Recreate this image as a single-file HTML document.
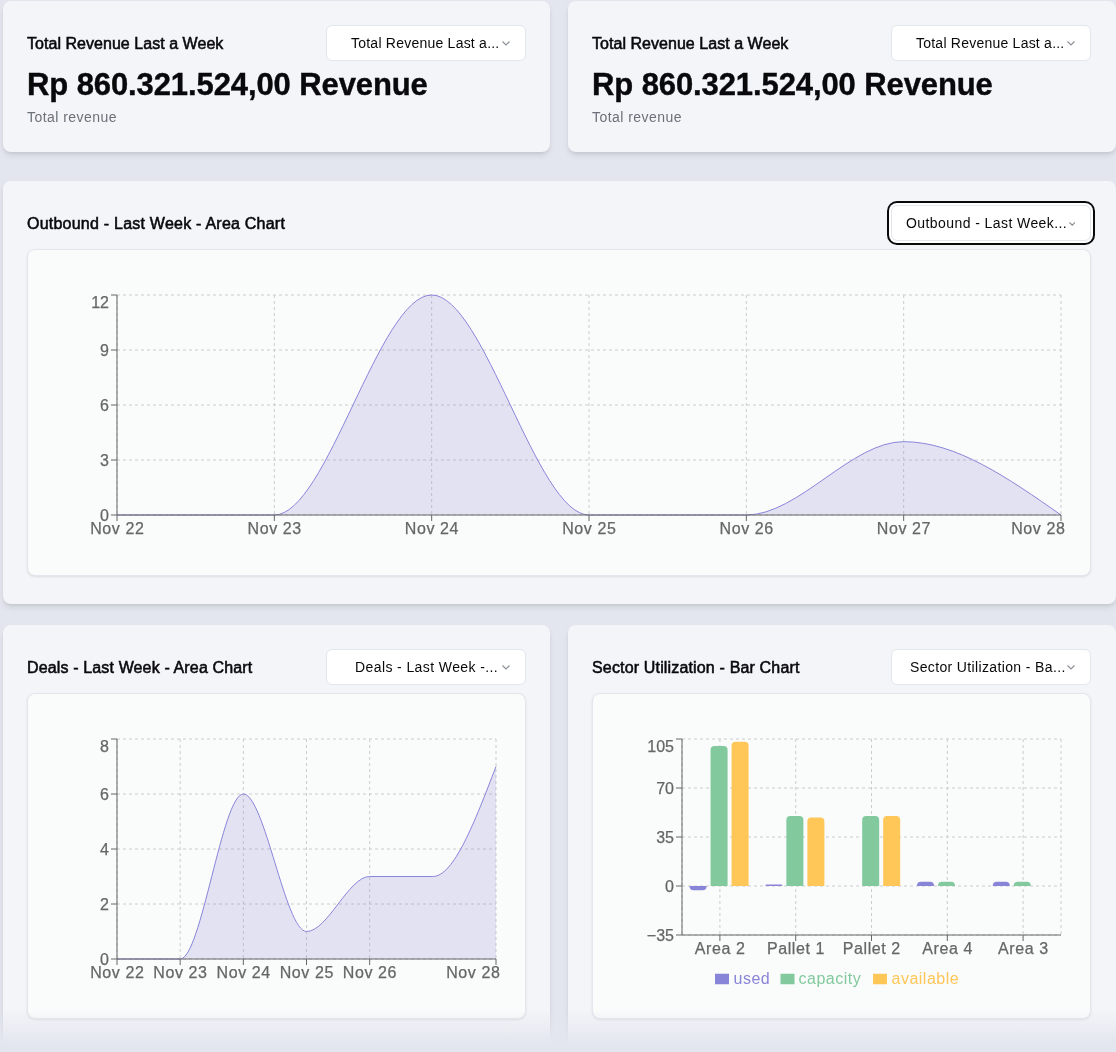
<!DOCTYPE html>
<html><head><meta charset="utf-8">
<style>
*{box-sizing:border-box;margin:0;padding:0}
html,body{width:1116px;height:1052px;overflow:hidden;background:#e3e6ee;font-family:"Liberation Sans", sans-serif;color:#09090b}
.card{position:absolute;background:#f4f5f9;border-radius:8px;box-shadow:0 4px 6px -1px rgba(0,0,0,.1),0 2px 4px -2px rgba(0,0,0,.1)}
.inner{position:absolute;background:#fafbfb;border:1px solid #e3e6ed;border-radius:8px;box-shadow:0 1px 3px 0 rgba(0,0,0,.08),0 1px 2px -1px rgba(0,0,0,.08)}
.title{will-change:transform;position:absolute;font-size:16px;font-weight:400;line-height:20px;white-space:nowrap;color:#09090b;-webkit-text-stroke:0.55px #09090b}
.big{will-change:transform;position:absolute;font-size:31px;font-weight:700;line-height:36px;white-space:nowrap;color:#09090b;letter-spacing:-0.1px;-webkit-text-stroke:0.4px #09090b}
.sub{will-change:transform;position:absolute;font-size:14px;line-height:20px;color:#6b7079;white-space:nowrap;letter-spacing:0.45px}
.sel{position:absolute;background:#fff;border:1px solid #e3e6ed;border-radius:6px;font-size:14px;line-height:20px;white-space:nowrap;color:#09090b}
.sel .st{will-change:transform;position:absolute;top:7px}
.sel.focus{box-shadow:0 0 0 2px #fff,0 0 0 4px #09090b}
svg.chart{position:absolute;left:0;top:0;font-family:"Liberation Sans", sans-serif;font-size:16px;will-change:transform}
svg.chart text.ax{stroke:#666;stroke-width:0.25px}
.fade{position:absolute;left:0;top:1010px;width:1116px;height:42px;background:linear-gradient(to bottom,rgba(227,230,238,0),#e3e6ee 80%)}
</style></head><body>
<div class="card" style="left:2.5px;top:0.5px;width:547.5px;height:151px"></div>
<div class="card" style="left:567.5px;top:0.5px;width:548px;height:151px"></div>
<div class="card" style="left:2.5px;top:180.5px;width:1113px;height:423px"></div>
<div class="card" style="left:2.5px;top:624.5px;width:547.5px;height:600px"></div>
<div class="card" style="left:567.5px;top:624.5px;width:548px;height:600px"></div>

<div class="title" style="left:27px;top:34px;letter-spacing:0.04px">Total Revenue Last a Week</div>
<div class="big" style="left:27px;top:66.5px">Rp 860.321.524,00 Revenue</div>
<div class="sub" style="left:27px;top:107px">Total revenue</div>
<div class="sel" style="left:325.5px;top:25px;width:200.5px;height:35.5px"><span class="st" style="right:26px;letter-spacing:0.23px">Total Revenue Last a...</span><span style="position:absolute;right:15px;top:14.75px;line-height:0"><svg class="chev" width="8" height="5.0" viewBox="0 0 8 5.0" style="width:8px;height:5.0px"><path d="M0.5 0.5L4.0 4.0L7.5 0.5" fill="none" stroke="#8a8e96" stroke-width="1.1"/></svg></span></div>

<div class="title" style="left:592px;top:34px;letter-spacing:0.04px">Total Revenue Last a Week</div>
<div class="big" style="left:592px;top:66.5px">Rp 860.321.524,00 Revenue</div>
<div class="sub" style="left:592px;top:107px">Total revenue</div>
<div class="sel" style="left:890.5px;top:25px;width:200.5px;height:35.5px"><span class="st" style="right:26px;letter-spacing:0.23px">Total Revenue Last a...</span><span style="position:absolute;right:15px;top:14.75px;line-height:0"><svg class="chev" width="8" height="5.0" viewBox="0 0 8 5.0" style="width:8px;height:5.0px"><path d="M0.5 0.5L4.0 4.0L7.5 0.5" fill="none" stroke="#8a8e96" stroke-width="1.1"/></svg></span></div>

<div class="title" style="left:27px;top:214px;letter-spacing:0.23px">Outbound - Last Week - Area Chart</div>
<div class="sel focus" style="left:891px;top:205px;width:200px;height:36px"><span class="st" style="right:22.5px;letter-spacing:0.42px">Outbound - Last Week...</span><span style="position:absolute;right:15px;top:15.375px;line-height:0"><svg class="chev" width="6.5" height="4.25" viewBox="0 0 6.5 4.25" style="width:6.5px;height:4.25px"><path d="M0.5 0.5L3.25 3.25L6.0 0.5" fill="none" stroke="#8a8e96" stroke-width="1.1"/></svg></span></div>
<div class="inner" style="left:27px;top:249px;width:1064px;height:326.5px"></div>

<div class="title" style="left:27px;top:658px;letter-spacing:0.14px">Deals - Last Week - Area Chart</div>
<div class="sel" style="left:325.5px;top:649px;width:200.5px;height:35.5px"><span class="st" style="right:27.3px;letter-spacing:0.4px">Deals - Last Week -...</span><span style="position:absolute;right:15px;top:14.75px;line-height:0"><svg class="chev" width="8" height="5.0" viewBox="0 0 8 5.0" style="width:8px;height:5.0px"><path d="M0.5 0.5L4.0 4.0L7.5 0.5" fill="none" stroke="#8a8e96" stroke-width="1.1"/></svg></span></div>
<div class="inner" style="left:27px;top:692.5px;width:498.5px;height:326px"></div>

<div class="title" style="left:592px;top:658px;letter-spacing:0.16px">Sector Utilization - Bar Chart</div>
<div class="sel" style="left:890.5px;top:649px;width:200.5px;height:35.5px"><span class="st" style="right:24.3px;letter-spacing:0.36px">Sector Utilization - Ba...</span><span style="position:absolute;right:15px;top:14.75px;line-height:0"><svg class="chev" width="8" height="5.0" viewBox="0 0 8 5.0" style="width:8px;height:5.0px"><path d="M0.5 0.5L4.0 4.0L7.5 0.5" fill="none" stroke="#8a8e96" stroke-width="1.1"/></svg></span></div>
<div class="inner" style="left:592px;top:692.5px;width:498.5px;height:326px"></div>

<svg class="chart" width="1116" height="1052" viewBox="0 0 1116 1052">
<line x1="117" y1="515.0" x2="1061" y2="515.0" stroke="#ccc" stroke-dasharray="3 3"/>
<line x1="117" y1="460.0" x2="1061" y2="460.0" stroke="#ccc" stroke-dasharray="3 3"/>
<line x1="117" y1="405.0" x2="1061" y2="405.0" stroke="#ccc" stroke-dasharray="3 3"/>
<line x1="117" y1="350.0" x2="1061" y2="350.0" stroke="#ccc" stroke-dasharray="3 3"/>
<line x1="117" y1="295.0" x2="1061" y2="295.0" stroke="#ccc" stroke-dasharray="3 3"/>
<line x1="117.0" y1="295" x2="117.0" y2="515" stroke="#ccc" stroke-dasharray="3 3"/>
<line x1="274.33333333333337" y1="295" x2="274.33333333333337" y2="515" stroke="#ccc" stroke-dasharray="3 3"/>
<line x1="431.6666666666667" y1="295" x2="431.6666666666667" y2="515" stroke="#ccc" stroke-dasharray="3 3"/>
<line x1="589.0" y1="295" x2="589.0" y2="515" stroke="#ccc" stroke-dasharray="3 3"/>
<line x1="746.3333333333334" y1="295" x2="746.3333333333334" y2="515" stroke="#ccc" stroke-dasharray="3 3"/>
<line x1="903.6666666666666" y1="295" x2="903.6666666666666" y2="515" stroke="#ccc" stroke-dasharray="3 3"/>
<line x1="1061.0" y1="295" x2="1061.0" y2="515" stroke="#ccc" stroke-dasharray="3 3"/>
<path d="M117.000,515.000C169.444,515.000,221.889,515.000,274.333,515.000C326.778,515.000,379.222,295.000,431.667,295.000C484.111,295.000,536.556,515.000,589.000,515.000C641.444,515.000,693.889,515.000,746.333,515.000C798.778,515.000,851.222,441.667,903.667,441.667C956.111,441.667,1008.556,478.333,1061.000,515.000L1061.000,515.000L117.000,515.000Z" fill="#8884d8" fill-opacity="0.2" stroke="none"/>
<path d="M117.000,515.000C169.444,515.000,221.889,515.000,274.333,515.000C326.778,515.000,379.222,295.000,431.667,295.000C484.111,295.000,536.556,515.000,589.000,515.000C641.444,515.000,693.889,515.000,746.333,515.000C798.778,515.000,851.222,441.667,903.667,441.667C956.111,441.667,1008.556,478.333,1061.000,515.000" fill="none" stroke="#8884d8" stroke-width="1"/>
<line x1="117" y1="295" x2="117" y2="515" stroke="#666"/>
<line x1="117" y1="515" x2="1061" y2="515" stroke="#666"/>
<line x1="111" y1="515.0" x2="117" y2="515.0" stroke="#666"/>
<text x="109" y="515.0" dy="0.355em" text-anchor="end" fill="#666" class="ax">0</text>
<line x1="111" y1="460.0" x2="117" y2="460.0" stroke="#666"/>
<text x="109" y="460.0" dy="0.355em" text-anchor="end" fill="#666" class="ax">3</text>
<line x1="111" y1="405.0" x2="117" y2="405.0" stroke="#666"/>
<text x="109" y="405.0" dy="0.355em" text-anchor="end" fill="#666" class="ax">6</text>
<line x1="111" y1="350.0" x2="117" y2="350.0" stroke="#666"/>
<text x="109" y="350.0" dy="0.355em" text-anchor="end" fill="#666" class="ax">9</text>
<line x1="111" y1="295.0" x2="117" y2="295.0" stroke="#666"/>
<text x="109" y="302.0" dy="0.355em" text-anchor="end" fill="#666" class="ax">12</text>
<line x1="117.0" y1="515" x2="117.0" y2="521" stroke="#666"/>
<text x="117.3" y="523" dy="0.71em" text-anchor="middle" letter-spacing="0.6" fill="#666" class="ax">Nov 22</text>
<line x1="274.33333333333337" y1="515" x2="274.33333333333337" y2="521" stroke="#666"/>
<text x="274.6333333333334" y="523" dy="0.71em" text-anchor="middle" letter-spacing="0.6" fill="#666" class="ax">Nov 23</text>
<line x1="431.6666666666667" y1="515" x2="431.6666666666667" y2="521" stroke="#666"/>
<text x="431.9666666666667" y="523" dy="0.71em" text-anchor="middle" letter-spacing="0.6" fill="#666" class="ax">Nov 24</text>
<line x1="589.0" y1="515" x2="589.0" y2="521" stroke="#666"/>
<text x="589.3" y="523" dy="0.71em" text-anchor="middle" letter-spacing="0.6" fill="#666" class="ax">Nov 25</text>
<line x1="746.3333333333334" y1="515" x2="746.3333333333334" y2="521" stroke="#666"/>
<text x="746.6333333333333" y="523" dy="0.71em" text-anchor="middle" letter-spacing="0.6" fill="#666" class="ax">Nov 26</text>
<line x1="903.6666666666666" y1="515" x2="903.6666666666666" y2="521" stroke="#666"/>
<text x="903.9666666666666" y="523" dy="0.71em" text-anchor="middle" letter-spacing="0.6" fill="#666" class="ax">Nov 27</text>
<line x1="1061.0" y1="515" x2="1061.0" y2="521" stroke="#666"/>
<text x="1065.5" y="523" dy="0.71em" text-anchor="end" letter-spacing="0.6" fill="#666" class="ax">Nov 28</text>
<line x1="117" y1="959.0" x2="496" y2="959.0" stroke="#ccc" stroke-dasharray="3 3"/>
<line x1="117" y1="904.0" x2="496" y2="904.0" stroke="#ccc" stroke-dasharray="3 3"/>
<line x1="117" y1="849.0" x2="496" y2="849.0" stroke="#ccc" stroke-dasharray="3 3"/>
<line x1="117" y1="794.0" x2="496" y2="794.0" stroke="#ccc" stroke-dasharray="3 3"/>
<line x1="117" y1="739.0" x2="496" y2="739.0" stroke="#ccc" stroke-dasharray="3 3"/>
<line x1="117.0" y1="739" x2="117.0" y2="959" stroke="#ccc" stroke-dasharray="3 3"/>
<line x1="180.16666666666666" y1="739" x2="180.16666666666666" y2="959" stroke="#ccc" stroke-dasharray="3 3"/>
<line x1="243.33333333333331" y1="739" x2="243.33333333333331" y2="959" stroke="#ccc" stroke-dasharray="3 3"/>
<line x1="306.5" y1="739" x2="306.5" y2="959" stroke="#ccc" stroke-dasharray="3 3"/>
<line x1="369.66666666666663" y1="739" x2="369.66666666666663" y2="959" stroke="#ccc" stroke-dasharray="3 3"/>
<line x1="496.0" y1="739" x2="496.0" y2="959" stroke="#ccc" stroke-dasharray="3 3"/>
<path d="M117.000,959.000C138.056,959.000,159.111,959.000,180.167,959.000C201.222,959.000,222.278,794.000,243.333,794.000C264.389,794.000,285.444,931.500,306.500,931.500C327.556,931.500,348.611,876.500,369.667,876.500C390.722,876.500,411.778,876.500,432.833,876.500C453.889,876.500,474.944,821.500,496.000,766.500L496.000,959.000L117.000,959.000Z" fill="#8884d8" fill-opacity="0.2" stroke="none"/>
<path d="M117.000,959.000C138.056,959.000,159.111,959.000,180.167,959.000C201.222,959.000,222.278,794.000,243.333,794.000C264.389,794.000,285.444,931.500,306.500,931.500C327.556,931.500,348.611,876.500,369.667,876.500C390.722,876.500,411.778,876.500,432.833,876.500C453.889,876.500,474.944,821.500,496.000,766.500" fill="none" stroke="#8884d8" stroke-width="1"/>
<line x1="117" y1="739" x2="117" y2="959" stroke="#666"/>
<line x1="117" y1="959" x2="496" y2="959" stroke="#666"/>
<line x1="111" y1="959.0" x2="117" y2="959.0" stroke="#666"/>
<text x="109" y="959.0" dy="0.355em" text-anchor="end" fill="#666" class="ax">0</text>
<line x1="111" y1="904.0" x2="117" y2="904.0" stroke="#666"/>
<text x="109" y="904.0" dy="0.355em" text-anchor="end" fill="#666" class="ax">2</text>
<line x1="111" y1="849.0" x2="117" y2="849.0" stroke="#666"/>
<text x="109" y="849.0" dy="0.355em" text-anchor="end" fill="#666" class="ax">4</text>
<line x1="111" y1="794.0" x2="117" y2="794.0" stroke="#666"/>
<text x="109" y="794.0" dy="0.355em" text-anchor="end" fill="#666" class="ax">6</text>
<line x1="111" y1="739.0" x2="117" y2="739.0" stroke="#666"/>
<text x="109" y="746.0" dy="0.355em" text-anchor="end" fill="#666" class="ax">8</text>
<line x1="117.0" y1="959" x2="117.0" y2="965" stroke="#666"/>
<text x="117.3" y="967" dy="0.71em" text-anchor="middle" letter-spacing="0.6" fill="#666" class="ax">Nov 22</text>
<line x1="180.16666666666666" y1="959" x2="180.16666666666666" y2="965" stroke="#666"/>
<text x="180.46666666666667" y="967" dy="0.71em" text-anchor="middle" letter-spacing="0.6" fill="#666" class="ax">Nov 23</text>
<line x1="243.33333333333331" y1="959" x2="243.33333333333331" y2="965" stroke="#666"/>
<text x="243.63333333333333" y="967" dy="0.71em" text-anchor="middle" letter-spacing="0.6" fill="#666" class="ax">Nov 24</text>
<line x1="306.5" y1="959" x2="306.5" y2="965" stroke="#666"/>
<text x="306.8" y="967" dy="0.71em" text-anchor="middle" letter-spacing="0.6" fill="#666" class="ax">Nov 25</text>
<line x1="369.66666666666663" y1="959" x2="369.66666666666663" y2="965" stroke="#666"/>
<text x="369.96666666666664" y="967" dy="0.71em" text-anchor="middle" letter-spacing="0.6" fill="#666" class="ax">Nov 26</text>
<line x1="496.0" y1="959" x2="496.0" y2="965" stroke="#666"/>
<text x="500.5" y="967" dy="0.71em" text-anchor="end" letter-spacing="0.6" fill="#666" class="ax">Nov 28</text>
<line x1="682" y1="935.0" x2="1061" y2="935.0" stroke="#ccc" stroke-dasharray="3 3"/>
<line x1="682" y1="886.0" x2="1061" y2="886.0" stroke="#ccc" stroke-dasharray="3 3"/>
<line x1="682" y1="837.0" x2="1061" y2="837.0" stroke="#ccc" stroke-dasharray="3 3"/>
<line x1="682" y1="788.0" x2="1061" y2="788.0" stroke="#ccc" stroke-dasharray="3 3"/>
<line x1="682" y1="739.0" x2="1061" y2="739.0" stroke="#ccc" stroke-dasharray="3 3"/>
<line x1="719.9" y1="739" x2="719.9" y2="935" stroke="#ccc" stroke-dasharray="3 3"/>
<line x1="795.7" y1="739" x2="795.7" y2="935" stroke="#ccc" stroke-dasharray="3 3"/>
<line x1="871.5" y1="739" x2="871.5" y2="935" stroke="#ccc" stroke-dasharray="3 3"/>
<line x1="947.3" y1="739" x2="947.3" y2="935" stroke="#ccc" stroke-dasharray="3 3"/>
<line x1="1023.0999999999999" y1="739" x2="1023.0999999999999" y2="935" stroke="#ccc" stroke-dasharray="3 3"/>
<line x1="682" y1="739" x2="682" y2="935" stroke="#ccc" stroke-dasharray="3 3"/>
<line x1="1061" y1="739" x2="1061" y2="935" stroke="#ccc" stroke-dasharray="3 3"/>
<path d="M689.58,886.0L689.58,886.2A4,4,0,0,0,693.58,890.2L702.58,890.2A4,4,0,0,0,706.58,886.2L706.58,886.0Z" fill="#8884d8"/>
<path d="M710.58,886.0L710.58,750.0A4,4,0,0,1,714.58,746.0L723.58,746.0A4,4,0,0,1,727.58,750.0L727.58,886.0Z" fill="#82ca9d"/>
<path d="M731.58,886.0L731.58,745.8A4,4,0,0,1,735.58,741.8L744.58,741.8A4,4,0,0,1,748.58,745.8L748.58,886.0Z" fill="#ffc658"/>
<path d="M765.38,886.0L765.38,886.0A1.3999999999999773,1.3999999999999773,0,0,1,766.78,884.6L780.98,884.6A1.3999999999999773,1.3999999999999773,0,0,1,782.38,886.0L782.38,886.0Z" fill="#8884d8"/>
<path d="M786.38,886.0L786.38,820.0A4,4,0,0,1,790.38,816.0L799.38,816.0A4,4,0,0,1,803.38,820.0L803.38,886.0Z" fill="#82ca9d"/>
<path d="M807.38,886.0L807.38,821.4A4,4,0,0,1,811.38,817.4L820.38,817.4A4,4,0,0,1,824.38,821.4L824.38,886.0Z" fill="#ffc658"/>
<path d="M862.1800000000001,886.0L862.1800000000001,820.0A4,4,0,0,1,866.1800000000001,816.0L875.1800000000001,816.0A4,4,0,0,1,879.1800000000001,820.0L879.1800000000001,886.0Z" fill="#82ca9d"/>
<path d="M883.1800000000001,886.0L883.1800000000001,820.0A4,4,0,0,1,887.1800000000001,816.0L896.1800000000001,816.0A4,4,0,0,1,900.1800000000001,820.0L900.1800000000001,886.0Z" fill="#ffc658"/>
<path d="M916.98,886.0L916.98,885.8A4,4,0,0,1,920.98,881.8L929.98,881.8A4,4,0,0,1,933.98,885.8L933.98,886.0Z" fill="#8884d8"/>
<path d="M937.98,886.0L937.98,885.8A4,4,0,0,1,941.98,881.8L950.98,881.8A4,4,0,0,1,954.98,885.8L954.98,886.0Z" fill="#82ca9d"/>
<path d="M992.7800000000001,886.0L992.7800000000001,885.8A4,4,0,0,1,996.7800000000001,881.8L1005.7800000000001,881.8A4,4,0,0,1,1009.7800000000001,885.8L1009.7800000000001,886.0Z" fill="#8884d8"/>
<path d="M1013.7800000000001,886.0L1013.7800000000001,885.8A4,4,0,0,1,1017.7800000000001,881.8L1026.7800000000002,881.8A4,4,0,0,1,1030.7800000000002,885.8L1030.7800000000002,886.0Z" fill="#82ca9d"/>
<line x1="682" y1="739" x2="682" y2="935" stroke="#666"/>
<line x1="682" y1="935" x2="1061" y2="935" stroke="#666"/>
<line x1="676" y1="935.0" x2="682" y2="935.0" stroke="#666"/>
<text x="674" y="935.0" dy="0.355em" text-anchor="end" fill="#666" class="ax">−35</text>
<line x1="676" y1="886.0" x2="682" y2="886.0" stroke="#666"/>
<text x="674" y="886.0" dy="0.355em" text-anchor="end" fill="#666" class="ax">0</text>
<line x1="676" y1="837.0" x2="682" y2="837.0" stroke="#666"/>
<text x="674" y="837.0" dy="0.355em" text-anchor="end" fill="#666" class="ax">35</text>
<line x1="676" y1="788.0" x2="682" y2="788.0" stroke="#666"/>
<text x="674" y="788.0" dy="0.355em" text-anchor="end" fill="#666" class="ax">70</text>
<line x1="676" y1="739.0" x2="682" y2="739.0" stroke="#666"/>
<text x="674" y="746.0" dy="0.355em" text-anchor="end" fill="#666" class="ax">105</text>
<line x1="719.9" y1="935" x2="719.9" y2="941" stroke="#666"/>
<text x="720.1999999999999" y="943" dy="0.71em" text-anchor="middle" letter-spacing="0.6" fill="#666" class="ax">Area 2</text>
<line x1="795.7" y1="935" x2="795.7" y2="941" stroke="#666"/>
<text x="796.0" y="943" dy="0.71em" text-anchor="middle" letter-spacing="0.6" fill="#666" class="ax">Pallet 1</text>
<line x1="871.5" y1="935" x2="871.5" y2="941" stroke="#666"/>
<text x="871.8" y="943" dy="0.71em" text-anchor="middle" letter-spacing="0.6" fill="#666" class="ax">Pallet 2</text>
<line x1="947.3" y1="935" x2="947.3" y2="941" stroke="#666"/>
<text x="947.5999999999999" y="943" dy="0.71em" text-anchor="middle" letter-spacing="0.6" fill="#666" class="ax">Area 4</text>
<line x1="1023.0999999999999" y1="935" x2="1023.0999999999999" y2="941" stroke="#666"/>
<text x="1023.3999999999999" y="943" dy="0.71em" text-anchor="middle" letter-spacing="0.6" fill="#666" class="ax">Area 3</text>
<g font-size="16" letter-spacing="0.5">
<rect x="715" y="973.75" width="14" height="10.5" fill="#8884d8"/><text x="733.5" y="983.5" fill="#8884d8">used</text>
<rect x="780.5" y="973.75" width="14" height="10.5" fill="#82ca9d"/><text x="798.5" y="983.5" fill="#82ca9d">capacity</text>
<rect x="873" y="973.75" width="14" height="10.5" fill="#ffc658"/><text x="891.5" y="983.5" fill="#ffc658">available</text>
</g>
</svg>
<div class="fade"></div>
</body></html>
